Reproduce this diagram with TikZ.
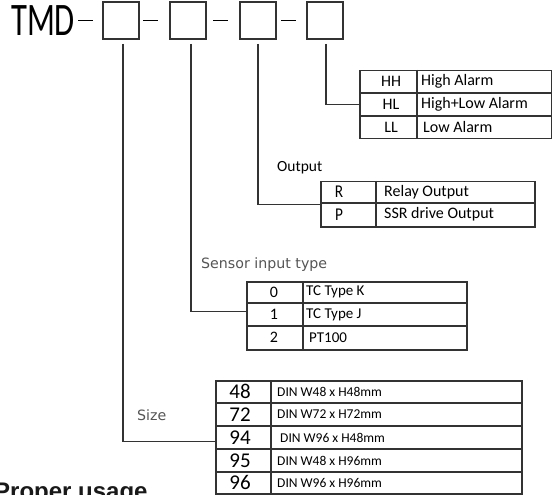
\documentclass[tikz,border=0pt]{standalone}
\usepackage{fontspec}
\setmainfont{Carlito}
\newfontfamily\labfont{DejaVu Sans}
\newfontfamily\propfont{Liberation Sans}
\definecolor{linec}{HTML}{333333}
\definecolor{labc}{HTML}{555555}
\begin{document}
\begin{tikzpicture}[x=1bp,y=-1bp,
  codebox/.style={draw=linec, line width=1.8bp, minimum width=36bp, minimum height=37bp, inner sep=0},
  tbl/.style={draw=linec, line width=1.5bp, inner sep=0, anchor=north west},
  rowline/.style={draw=linec, line width=1.1bp},
  conn/.style={draw=linec, line width=1.2bp},
  sepdash/.style={draw=black, line width=1.5bp},
  desc/.style={anchor=west, inner sep=0, font=\fontsize{16bp}{18bp}\selectfont},
  sdesc/.style={anchor=west, inner sep=0, font=\fontsize{13.5bp}{15bp}\selectfont},
  code/.style={inner sep=0, font=\fontsize{16bp}{18bp}\selectfont},
  bigcode/.style={inner sep=0, font=\fontsize{21bp}{23bp}\selectfont},
  lab/.style={anchor=west, inner sep=0, text=labc, font=\labfont\fontsize{14.2bp}{16bp}\selectfont},
  olab/.style={anchor=west, inner sep=0, font=\fontsize{15.5bp}{17bp}\selectfont}
]
\useasboundingbox (0,0) rectangle (552,495);
\clip (0,0) rectangle (552,495);
\fill[white] (0,0) rectangle (552,495);

% title
\node[anchor=base west, inner sep=0, font=\fontsize{46.6bp}{48bp}\selectfont] (tmd) at (11,36) {\scalebox{0.7}[1]{TMD}};
\node[codebox] (b1) at (121,20.5) {};
\node[codebox] (b2) at (188,20.5) {};
\node[codebox] (b3) at (258,20.5) {};
\node[codebox] (b4) at (325,20.5) {};
\draw[sepdash] (78,20.5) -- (93,20.5);
\draw[sepdash] (143,20.5) -- (158,20.5);
\draw[sepdash] (213,20.5) -- (228,20.5);
\draw[sepdash] (281,20.5) -- (296,20.5);

% alarm table
\node[tbl, minimum width=192bp, minimum height=68bp] (alarm) at (359,70) {};
\draw[rowline] (359,93) -- (551,93);
\draw[rowline] (359,116) -- (551,116);
\draw[rowline] (417,70) -- (417,138);
\node[code] (hh) at (391,81.5) {HH};
\node[code] (hl) at (391,104.5) {HL};
\node[code] (ll) at (391,127) {LL};
\node[desc] (hhd) at (421,81.5) {High Alarm};
\node[desc] (hld) at (421,104.5) {High+Low Alarm};
\node[desc] (lld) at (423,127) {Low Alarm};

% output table
\node[olab] (outlab) at (277,168) {Output};
\node[tbl, minimum width=214bp, minimum height=45bp] (out) at (320,181) {};
\draw[rowline] (320,203) -- (534,203);
\draw[rowline] (376,181) -- (376,226);
\node[code, font=\fontsize{18bp}{20bp}\selectfont] (r) at (339,192) {\scalebox{0.85}[1]{R}};
\node[code, font=\fontsize{18bp}{20bp}\selectfont] (p) at (339,214.5) {\scalebox{0.85}[1]{P}};
\node[desc] (rd) at (384,192) {Relay Output};
\node[desc] (pd) at (384,214.5) {SSR drive Output};

% sensor table
\node[lab] (senslab) at (201,265) {Sensor input type};
\node[tbl, minimum width=220bp, minimum height=68bp] (sens) at (246,281) {};
\draw[rowline] (246,303) -- (466,303);
\draw[rowline] (246,326) -- (466,326);
\draw[rowline] (303,281) -- (303,349);
\node[code] (s0) at (274,292) {0};
\node[code] (s1) at (274,314.5) {1};
\node[code] (s2) at (274,337.5) {2};
\node[sdesc, font=\fontsize{15bp}{17bp}\selectfont] (s0d) at (306,292) {TC Type K};
\node[sdesc, font=\fontsize{15bp}{17bp}\selectfont] (s1d) at (306,314.5) {TC Type J};
\node[sdesc, font=\fontsize{15bp}{17bp}\selectfont] (s2d) at (309,337.5) {PT100};

% size table
\node[lab] (sizelab) at (137,415) {Size};
\node[tbl, minimum width=306bp, minimum height=113bp] (size) at (215,380) {};
\draw[rowline] (215,403) -- (521,403);
\draw[rowline] (215,426) -- (521,426);
\draw[rowline] (215,449) -- (521,449);
\draw[rowline] (215,472) -- (521,472);
\draw[rowline] (271,380) -- (271,493);
\node[bigcode] (z48) at (240,391.5) {48};
\node[bigcode] (z72) at (240,414.5) {72};
\node[bigcode] (z94) at (240,437.5) {94};
\node[bigcode] (z95) at (240,460.5) {95};
\node[bigcode] (z96) at (240,482.5) {96};
\node[sdesc] (z48d) at (277,391.5) {DIN W48 x H48mm};
\node[sdesc] (z72d) at (277,414.5) {DIN W72 x H72mm};
\node[sdesc] (z94d) at (280,437.5) {DIN W96 x H48mm};
\node[sdesc] (z95d) at (277,460.5) {DIN W48 x H96mm};
\node[sdesc] (z96d) at (277,482.5) {DIN W96 x H96mm};

% connectors
\draw[conn] ([xshift=1bp,yshift=-4bp]b4.south) |- (alarm.west);
\draw[conn] ([yshift=-4bp]b3.south) |- (out.west);
\draw[conn] ([xshift=3bp,yshift=-4bp]b2.south) |- ([yshift=4bp]sens.west);
\draw[conn] ([xshift=2bp,yshift=-4bp]b1.south) |- ([yshift=-4.5bp]size.west);

% cut-off heading (cut by the lower edge, as in the reference)
\node[anchor=base west, inner sep=0, text=black!90, font=\propfont\bfseries\fontsize{24bp}{26bp}\selectfont] (proper) at (-6,499) {Proper usage};
\end{tikzpicture}
\end{document}
